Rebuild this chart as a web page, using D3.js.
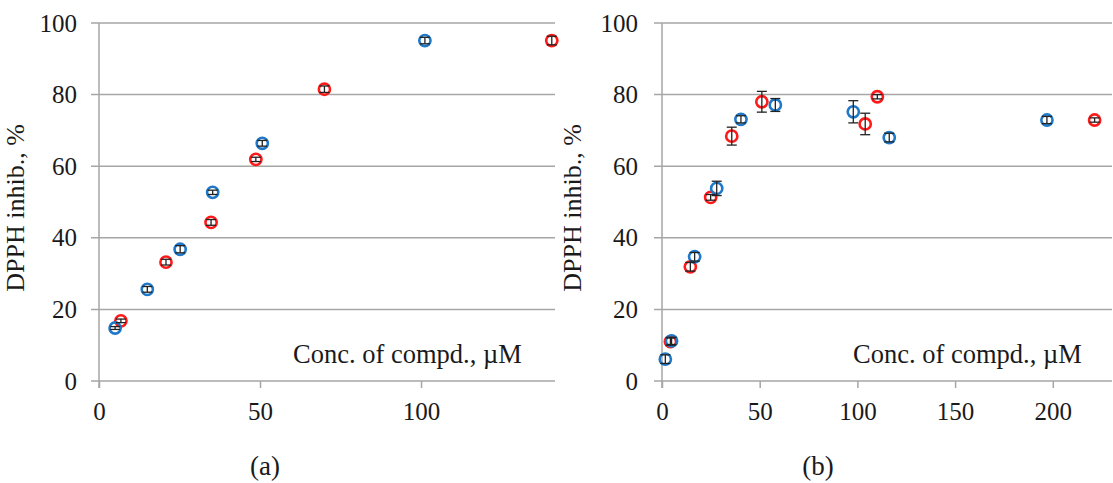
<!DOCTYPE html>
<html>
<head>
<meta charset="utf-8">
<script src="https://cdn.jsdelivr.net/npm/d3@7"></script>
<style>
  body { margin: 0; background: #fff; }
  svg text { font-family: "Liberation Serif", "Times New Roman", serif !important; fill: #1a1a1a; }
</style>
</head>
<body>
<div id="chart"></div>
<script>
// chart size
let width_svg = 1113;
let height_svg = 483;

// ---- data, panel (a) ----
let a_blue_x = [5, 15, 25.2, 35.3, 50.7, 101.2];
let a_blue_y = [14.8, 25.6, 36.8, 52.7, 66.4, 95.1];
let a_blue_err = [0.4, 0.8, 1.0, 0.6, 0.8, 0.9];

let a_red_x = [6.8, 20.8, 34.8, 48.7, 70, 140.6];
let a_red_y = [16.8, 33.2, 44.3, 61.9, 81.5, 95.1];
let a_red_err = [0.5, 0.8, 0.8, 0.6, 0.9, 1.2];

let a_x_ticks = [0, 50, 100];

// ---- data, panel (b) ----
let b_blue_x = [1.7, 4.9, 16.7, 28.0, 40.4, 58.0, 97.9, 116.3, 197];
let b_blue_y = [6.1, 11.2, 34.7, 53.8, 73.1, 77.1, 75.2, 68.0, 72.9];
let b_blue_err = [1.2, 1.0, 1.2, 2.0, 1.0, 1.8, 3.1, 1.2, 1.0];

let b_red_x = [4.3, 14.5, 24.9, 35.7, 51.1, 104, 110.2, 221.4];
let b_red_y = [11.0, 31.9, 51.3, 68.4, 78.0, 71.8, 79.4, 72.9];
let b_red_err = [1.0, 1.2, 0.8, 2.5, 2.9, 3.0, 0.6, 0.6];

let b_x_ticks = [0, 50, 100, 150, 200];

let y_ticks = [0, 20, 40, 60, 80, 100];

let blue = "#1f78c8";
let red = "#ff1a1a";
let grid_col = "#a6a6a6";
let serif = "'Liberation Serif', 'Times New Roman', serif";

let svg = d3.select("#chart")
            .append("svg")
            .attr("width", width_svg)
            .attr("height", height_svg);

svg.append("rect").attr("width", width_svg).attr("height", height_svg).attr("fill", "#fff");

function zip(xs, ys, es) {
    return xs.map((x, i) => ({x: x, y: ys[i], e: es[i]}));
}

//==========================================================
function drawPanel(p) {
    let x = d3.scaleLinear().domain([0, p.xmax]).range([p.left, p.right]);
    let y = d3.scaleLinear().domain([0, 100]).range([381, 23]);

    let g = svg.append("g");

    // gridlines (with the little tick stub left of the axis)
    g.selectAll("line.grid")
     .data(y_ticks)
     .enter()
     .append("line")
     .attr("x1", p.left - 8)
     .attr("x2", p.right)
     .attr("y1", d => y(d))
     .attr("y2", d => y(d))
     .attr("stroke", grid_col)
     .attr("stroke-width", 1.5);

    // y axis line
    g.append("line")
     .attr("x1", p.left).attr("x2", p.left)
     .attr("y1", y(100)).attr("y2", y(0) + 7)
     .attr("stroke", grid_col).attr("stroke-width", 1.5);

    // x axis ticks + labels
    let bottom_axis = d3.axisBottom(x).tickValues(p.xticks).tickSize(7).tickPadding(14);
    let xa = g.append("g").attr("transform", `translate(0, ${y(0)})`).call(bottom_axis)
              .attr("font-family", serif).attr("font-size", 25);
    xa.select(".domain").remove();
    xa.selectAll("line").attr("stroke", grid_col).attr("stroke-width", 1.5);
    xa.selectAll("text").style("font-family", serif).style("font-size", "25px");

    // y axis labels
    let left_axis = d3.axisLeft(y).tickValues(y_ticks).tickSize(0).tickPadding(p.left - p.ylab);
    let ya = g.append("g").attr("transform", `translate(${p.left}, 0)`).call(left_axis)
              .attr("font-family", serif).attr("font-size", 25);
    ya.select(".domain").remove();
    ya.selectAll("text").style("font-family", serif).style("font-size", "25px");

    // axis titles
    g.append("text")
     .attr("transform", `translate(${p.ytitle_x}, 208) rotate(-90)`)
     .attr("text-anchor", "middle")
     .style("font-size", "26px")
     .text("DPPH inhib., %");

    g.append("text")
     .attr("x", p.xtitle_x)
     .attr("y", 363)
     .style("font-size", "26.5px")
     .text("Conc. of compd., \u00b5M");

    g.append("text")
     .attr("x", p.cap_x)
     .attr("y", 475)
     .attr("text-anchor", "middle")
     .style("font-size", "27px")
     .text(p.caption);

    // points, red first then blue on top
    [[p.red, red], [p.blue, blue]].forEach(([pts, col]) => {
        g.selectAll(null)
         .data(pts)
         .enter()
         .append("circle")
         .attr("cx", d => x(d.x))
         .attr("cy", d => y(d.y))
         .attr("r", 5.6)
         .attr("fill", "none")
         .attr("stroke", col)
         .attr("stroke-width", 2.6);
    });

    // error bars
    [p.red, p.blue].forEach(pts => {
        let eb = g.selectAll(null).data(pts).enter().append("g");
        eb.append("line")
          .attr("x1", d => x(d.x)).attr("x2", d => x(d.x))
          .attr("y1", d => y(d.y + d.e)).attr("y2", d => y(d.y - d.e))
          .attr("stroke", "#222").attr("stroke-width", 1.3);
        eb.append("line")
          .attr("x1", d => x(d.x) - 5).attr("x2", d => x(d.x) + 5)
          .attr("y1", d => y(d.y + d.e)).attr("y2", d => y(d.y + d.e))
          .attr("stroke", "#222").attr("stroke-width", 1.3);
        eb.append("line")
          .attr("x1", d => x(d.x) - 5).attr("x2", d => x(d.x) + 5)
          .attr("y1", d => y(d.y - d.e)).attr("y2", d => y(d.y - d.e))
          .attr("stroke", "#222").attr("stroke-width", 1.3);
    });
}

drawPanel({
    left: 99, right: 555, xmax: 141.6, xticks: a_x_ticks, ylab: 77,
    ytitle_x: 24, xtitle_x: 293, cap_x: 265, caption: "(a)",
    blue: zip(a_blue_x, a_blue_y, a_blue_err),
    red: zip(a_red_x, a_red_y, a_red_err)
});

drawPanel({
    left: 662, right: 1112, xmax: 230.3, xticks: b_x_ticks, ylab: 638,
    ytitle_x: 581, xtitle_x: 853, cap_x: 818, caption: "(b)",
    blue: zip(b_blue_x, b_blue_y, b_blue_err),
    red: zip(b_red_x, b_red_y, b_red_err)
});
</script>
</body>
</html>
